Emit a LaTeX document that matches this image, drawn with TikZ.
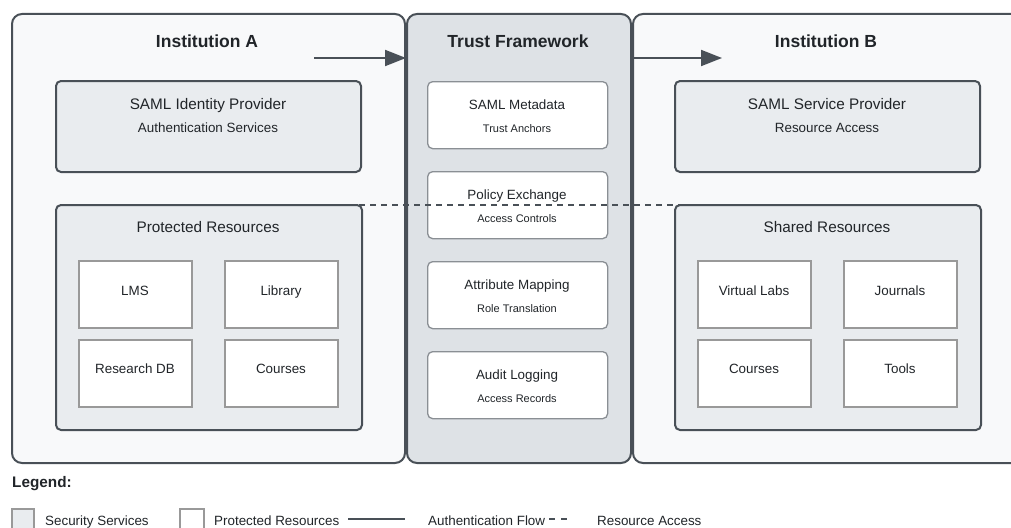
\documentclass[tikz,border=0pt]{standalone}
\usepackage{fontspec}
\setmainfont{Liberation Sans}
\usetikzlibrary{arrows.meta}

\definecolor{panelfill}{HTML}{F8F9FA}
\definecolor{trustfill}{HTML}{DEE2E6}
\definecolor{secfill}{HTML}{E9ECEF}
\definecolor{edge}{HTML}{495057}
\definecolor{softedge}{HTML}{999999}
\definecolor{cardedge}{HTML}{8A8F94}
\definecolor{ink}{HTML}{212529}

\newcommand{\ftitle}{\fontsize{17.5}{20}\selectfont\bfseries}
\newcommand{\fhead}{\fontsize{15.3}{18}\selectfont}
\newcommand{\fsub}{\fontsize{13.4}{16}\selectfont}
\newcommand{\fsmall}{\fontsize{11}{13}\selectfont}

\tikzset{
  panel/.style={draw=edge, line width=2pt, rounded corners=10pt},
  secbox/.style={draw=edge, fill=secfill, line width=2pt, rounded corners=5pt,
    anchor=north west, inner sep=0pt},
  resbox/.style={draw=softedge, fill=white, line width=2pt,
    anchor=north west, inner sep=0pt, minimum width=113pt, minimum height=67pt},
  card/.style={draw=cardedge, fill=white, line width=1.3pt, rounded corners=5pt,
    anchor=north west, inner sep=0pt, minimum width=180pt, minimum height=67pt},
  lbl/.style={anchor=base, inner sep=0pt, text=ink},
  flow/.style={draw=edge, line width=2pt},
  access/.style={draw=edge, line width=2pt, dash pattern=on 6pt off 5pt},
}

\begin{document}
\begin{tikzpicture}[x=1pt, y=-1pt]
\useasboundingbox (0,0) rectangle (1011,527);
\clip (0,0) rectangle (1011,527);

% three columns
\node[panel, fill=panelfill, anchor=north west, inner sep=0pt,
      minimum width=393pt, minimum height=449pt] (instA) at (11,13) {};
\node[panel, fill=trustfill, anchor=north west, inner sep=0pt,
      minimum width=224pt, minimum height=449pt] (trust) at (406,13) {};
\node[panel, fill=panelfill, anchor=north west, inner sep=0pt,
      minimum width=410pt, minimum height=449pt] (instB) at (632,13) {};

\node[lbl] (tA) at (207,48) {\ftitle Institution A};
\node[lbl] (tT) at (518,48) {\ftitle Trust Framework};
\node[lbl] (tB) at (826,48) {\ftitle Institution B};

% security services
\node[secbox, minimum width=305pt, minimum height=91pt] (idp) at (55,80) {};
\node[lbl] (idpT) at (208,109) {\fhead SAML Identity Provider};
\node[lbl] (idpS) at (208,132) {\fsub Authentication Services};

\node[secbox, minimum width=305pt, minimum height=91pt] (sp) at (674,80) {};
\node[lbl] (spT) at (827,109) {\fhead SAML Service Provider};
\node[lbl] (spS) at (827,132) {\fsub Resource Access};

% resource groups
\node[secbox, minimum width=306pt, minimum height=225pt] (prot) at (55,204) {};
\node[lbl] (protT) at (208,232) {\fhead Protected Resources};
\node[resbox] (lms) at (78,260) {};
\node[resbox] (lib) at (224,260) {};
\node[resbox] (rdb) at (78,339) {};
\node[resbox] (crsA) at (224,339) {};
\node[lbl] at (135,295) {\fsub LMS};
\node[lbl] at (281,295) {\fsub Library};
\node[lbl] at (135,373) {\fsub Research DB};
\node[lbl] at (281,373) {\fsub Courses};

\node[secbox, minimum width=306pt, minimum height=225pt] (shared) at (674,204) {};
\node[lbl] (sharedT) at (827,232) {\fhead Shared Resources};
\node[resbox] (vlab) at (697,260) {};
\node[resbox] (jour) at (843,260) {};
\node[resbox] (crsB) at (697,339) {};
\node[resbox] (tools) at (843,339) {};
\node[lbl] at (754,295) {\fsub Virtual Labs};
\node[lbl] at (900,295) {\fsub Journals};
\node[lbl] at (754,373) {\fsub Courses};
\node[lbl] at (900,373) {\fsub Tools};

% trust framework cards
\node[card] (meta) at (427,81) {};
\node[lbl] at (517,109) {\fsub SAML Metadata};
\node[lbl] at (517,132) {\fsmall Trust Anchors};
\node[card] (policy) at (427,171) {};
\node[lbl] at (517,199) {\fsub Policy Exchange};
\node[lbl] at (517,222) {\fsmall Access Controls};
\node[card] (attr) at (427,261) {};
\node[lbl] at (517,289) {\fsub Attribute Mapping};
\node[lbl] at (517,312) {\fsmall Role Translation};
\node[card] (audit) at (427,351) {};
\node[lbl] at (517,379) {\fsub Audit Logging};
\node[lbl] at (517,402) {\fsmall Access Records};

% authentication flow
\coordinate (flowA) at (314,58);
\coordinate (flowB) at (722,58);
\draw[flow, -{Triangle[length=21pt,width=16pt]}] (flowA) -- (flowA -| trust.west);
\draw[flow, -{Triangle[length=21pt,width=16pt]}] (flowB -| trust.east) -- (flowB);

% resource access
\coordinate (accA) at (315,205);
\coordinate (accB) at (720,205);
\draw[access] (accA) -- (accB);

% legend
\node[anchor=base west, inner sep=0pt, text=ink] (legend) at (12,487)
  {\fontsize{15.3}{18}\selectfont\bfseries Legend:};
\node[draw=softedge, fill=secfill, line width=1.5pt, anchor=north west, inner sep=0pt,
      minimum width=22pt, minimum height=28pt] (keySec) at (11,508) {};
\node[anchor=base west, inner sep=0pt, text=ink] (keySecT) at (45,525) {\fsub Security Services};
\node[draw=softedge, fill=white, line width=1.5pt, anchor=north west, inner sep=0pt,
      minimum width=24pt, minimum height=28pt] (keyRes) at (179,508) {};
\node[anchor=base west, inner sep=0pt, text=ink] (keyResT) at (214,525) {\fsub Protected Resources};
\coordinate (keyFlowA) at (348,519);
\coordinate (keyFlowB) at (405,519);
\draw[flow] (keyFlowA) -- (keyFlowB);
\node[anchor=base west, inner sep=0pt, text=ink] (keyFlowT) at (428,525) {\fsub Authentication Flow};
\coordinate (keyAccA) at (549,519);
\coordinate (keyAccB) at (568,519);
\draw[access, dash pattern=on 6pt off 6pt] (keyAccA) -- (keyAccB);
\node[anchor=base west, inner sep=0pt, text=ink] (keyAccT) at (597,525) {\fsub Resource Access};
\end{tikzpicture}
\end{document}
